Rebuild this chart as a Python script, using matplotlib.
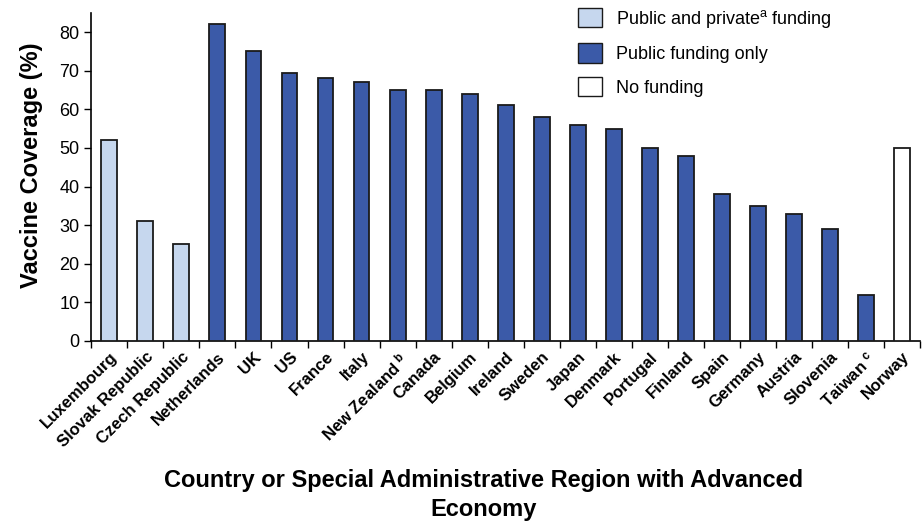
import matplotlib.pyplot as plt
from matplotlib.patches import Patch

plt.rcParams['font.family'] = ['Liberation Sans', 'DejaVu Sans']
plt.rcParams['mathtext.default'] = 'regular'

countries = ["Luxembourg", "Slovak Republic", "Czech Republic", "Netherlands", "UK", "US",
             "France", "Italy", "New Zealand$^{\\ b}$", "Canada", "Belgium", "Ireland", "Sweden",
             "Japan", "Denmark", "Portugal", "Finland", "Spain", "Germany", "Austria",
             "Slovenia", "Taiwan$^{\\ c}$", "Norway"]
coverage = [52, 31, 25, 82, 75, 69.5, 68, 67, 65, 65, 64, 61, 58, 56, 55, 50, 48, 38, 35, 33,
            29, 12, 50]
funding = ["both"] * 3 + ["public"] * 19 + ["none"]

colors = {"both": "#c6d7ee", "public": "#3b5aa8", "none": "#ffffff"}
legend_labels = {"both": "Public and private$^{a}$ funding",
                 "public": "Public funding only",
                 "none": "No funding"}

fig = plt.figure(figsize=(9.22, 5.21), dpi=100)
ax = fig.add_axes([0.099, 0.3455, 0.899, 0.63])

x = list(range(len(countries)))
ax.bar(x, coverage, width=0.44, color=[colors[f] for f in funding],
       edgecolor="#1a1a1a", linewidth=1.3, zorder=3)

ax.set_xlim(-0.5, len(countries) - 0.5)
ax.set_ylim(0, 85)
ax.set_yticks(range(0, 81, 10))
ax.tick_params(axis="y", labelsize=13, direction="out", length=5, width=1)
ax.set_xticks([i - 0.5 for i in range(len(countries) + 1)], minor=False)
ax.set_xticklabels([])
ax.set_xticks(x, minor=True)
ax.set_xticklabels(countries, minor=True, rotation=45, ha="right", rotation_mode="anchor",
                   fontsize=12, fontweight="bold")
ax.tick_params(axis="x", which="major", direction="out", length=5, width=1)
ax.tick_params(axis="x", which="minor", length=0, pad=6)

for s in ["top", "right"]:
    ax.spines[s].set_visible(False)
ax.spines["left"].set_linewidth(1.2)
ax.spines["bottom"].set_linewidth(1.2)

ax.set_ylabel("Vaccine Coverage (%)", fontsize=17, fontweight="bold")
ax.yaxis.set_label_coords(-0.058, 0.534)
fig.text(0.524, 0.05, "Country or Special Administrative Region with Advanced\nEconomy",
         ha="center", va="center", fontsize=17, fontweight="bold", linespacing=1.35)

handles = [Patch(facecolor=colors[k], edgecolor="#1a1a1a", linewidth=1.0, label=legend_labels[k])
           for k in ["both", "public", "none"]]
ax.legend(handles=handles, loc="upper left", bbox_to_anchor=(0.568, 1.065), frameon=False,
          fontsize=13, handlelength=1.3, handleheight=1.3, handletextpad=0.8, labelspacing=0.75)

fig.savefig("out.png", dpi=100)
